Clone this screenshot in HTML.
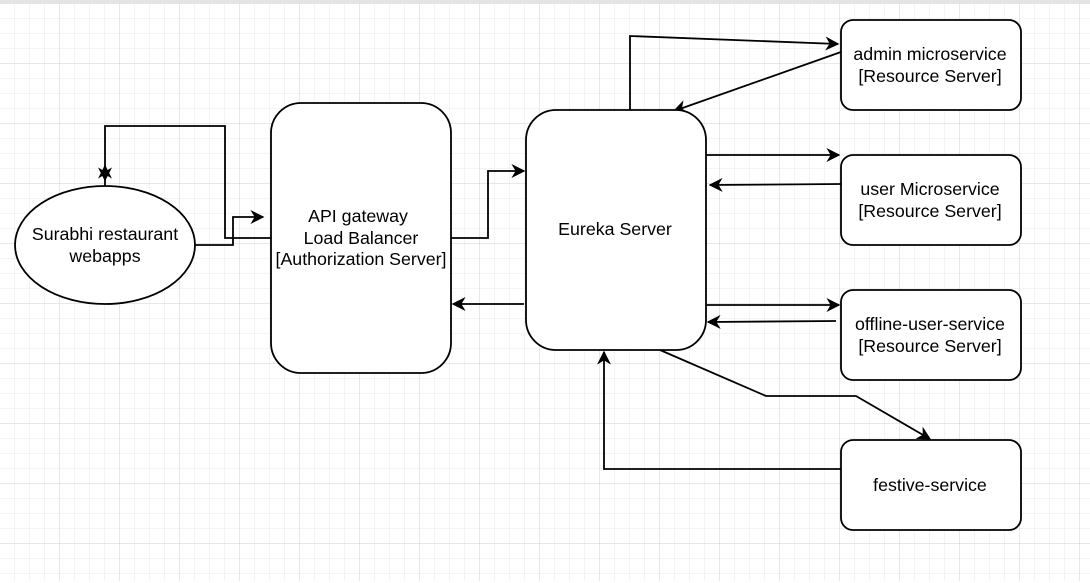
<!DOCTYPE html>
<html><head><meta charset="utf-8"><style>
html,body{margin:0;padding:0;background:#fff;}
svg{display:block;}
text{font-family:"Liberation Sans",Arial,sans-serif;font-size:17.8px;fill:#000;}
</style></head><body>
<svg width="1090" height="583" viewBox="0 0 1090 583" xmlns="http://www.w3.org/2000/svg">
<defs>
<pattern id="minor" x="0" y="4" width="15" height="15" patternUnits="userSpaceOnUse">
<path d="M15 0V15M0 15H15" fill="none" stroke="#e8e8e8" stroke-width="1"/>
</pattern>
<pattern id="major" x="0" y="4" width="60" height="60" patternUnits="userSpaceOnUse">
<path d="M60 0V60M0 60H60" fill="none" stroke="#d0d0d0" stroke-width="1"/>
</pattern>
<marker id="a" viewBox="0 0 10 10" refX="9" refY="5" markerWidth="14" markerHeight="14" markerUnits="userSpaceOnUse" orient="auto">
<path d="M0 0L10 5L0 10L3 5Z" fill="#000"/>
</marker>
</defs>
<rect width="1090" height="583" fill="#fff"/>
<rect x="0" y="4" width="1090" height="577" fill="url(#minor)"/>
<rect x="0" y="4" width="1090" height="577" fill="url(#major)"/>
<rect x="0" y="0" width="1090" height="4" fill="#e4e4e4"/>
<g fill="none" stroke="#000" stroke-width="1.8">
<polyline points="271,238 225,238 225,126 105,126 105,180" marker-end="url(#a)"/>
<polyline points="105,186 105,166" marker-end="url(#a)"/>
<polyline points="195,245 233,245 233,217 263,217" marker-end="url(#a)"/>
<polyline points="451,238 488,238 488,171 524,171" marker-end="url(#a)"/>
<polyline points="524,304 453,304" marker-end="url(#a)"/>
<polyline points="630,112 630,36 838,44" marker-end="url(#a)"/>
<polyline points="841,52 674,111" marker-end="url(#a)"/>
<polyline points="706,155 839,155" marker-end="url(#a)"/>
<polyline points="841,184 710,185" marker-end="url(#a)"/>
<polyline points="706,305 839,305" marker-end="url(#a)"/>
<polyline points="836,321 708,322" marker-end="url(#a)"/>
<polyline points="660,350 766,396 856,396 930,439" marker-end="url(#a)"/>
<polyline points="841,469 604,469 604,352" marker-end="url(#a)"/>
</g>
<g fill="#fff" stroke="#000" stroke-width="1.8">
<ellipse cx="105" cy="245" rx="90" ry="59"/>
<rect x="271" y="103" width="180" height="270" rx="30"/>
<rect x="526" y="110" width="180" height="240" rx="30"/>
<rect x="841" y="20" width="180" height="90" rx="12"/>
<rect x="841" y="155" width="180" height="90" rx="12"/>
<rect x="841" y="290" width="180" height="90" rx="12"/>
<rect x="841" y="440" width="180" height="90" rx="12"/>
</g>
<g text-anchor="middle">
<text x="105" y="240">Surabhi restaurant</text>
<text x="105" y="262">webapps</text>
<text x="358" y="222">API gateway</text>
<text x="361" y="244">Load Balancer</text>
<text x="361" y="265">[Authorization Server]</text>
<text x="615" y="235">Eureka Server</text>
<text x="930" y="60">admin microservice</text>
<text x="930" y="82">[Resource Server]</text>
<text x="930" y="195">user Microservice</text>
<text x="930" y="217">[Resource Server]</text>
<text x="930" y="330">offline-user-service</text>
<text x="930" y="352">[Resource Server]</text>
<text x="930" y="491">festive-service</text>
</g>
</svg>
</body></html>
